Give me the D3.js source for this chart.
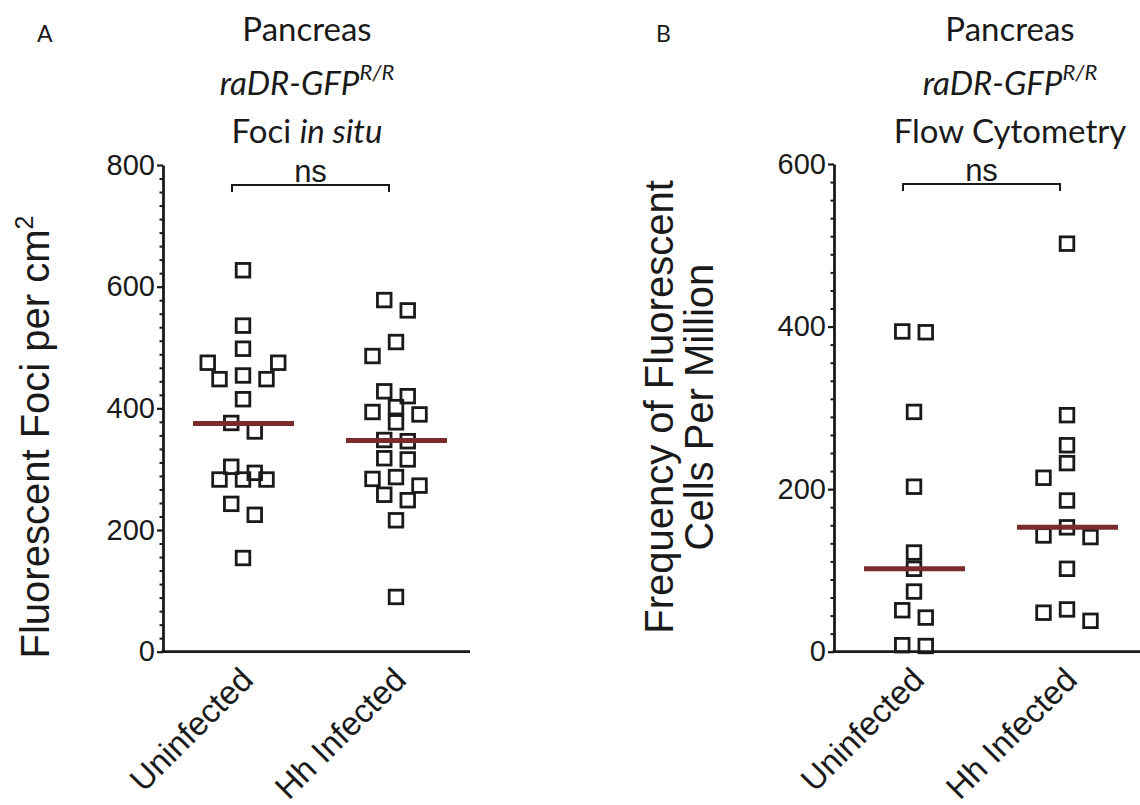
<!DOCTYPE html>
<html lang="en">
<head>
<meta charset="UTF-8">
<style>
  body { margin: 0; background: #fff; }
  svg text { fill: #1a1a1a; }
  .tick text { font-family: "Liberation Sans", Arial, sans-serif; }
</style>
<script src="https://d3js.org/d3.v7.min.js"></script>
</head>
<body>
<div id="chart"></div>
<script>
// groups on the x axis
const groups = ["Uninfected", "Hh Infected"];

// panel A : fluorescent foci per cm2 (in situ)
const fociUninfected = [627, 536, 498, 475, 475, 454, 448, 448, 415, 376, 362, 304, 294, 283, 283, 283, 243, 225, 154];
const fociInfected = [578, 561, 509, 486, 428, 420, 402, 394, 390, 377, 348, 346, 318, 316, 287, 284, 273, 258, 249, 216, 90];
const fociMeans = [375, 347];
const fociTicks = [0, 200, 400, 600, 800];

// panel B : fluorescent cells per million (flow cytometry)
const flowUninfected = [394, 393, 295, 203, 122, 102, 74, 51, 42, 8, 7];
const flowInfected = [502, 291, 254, 232, 214, 186, 153, 143, 141, 102, 52, 48, 38];
const flowMeans = [102, 153];
const flowTicks = [0, 200, 400, 600];

const W = 1140, H = 805;
const svg = d3.select("#chart").append("svg")
  .attr("width", W).attr("height", H);

const ink = "#1a1a1a";
const meanColor = "#7a2c2c";
const titleFont = "Lato, 'Open Sans', sans-serif";
const axisFont = "'Liberation Sans', Arial, sans-serif";

// prism-like column layout : rows of close values spread symmetrically
function swarm(values, y, step) {
  const order = values.map((v, i) => i).sort((a, b) => values[b] - values[a]);
  const rows = [];
  order.forEach(i => {
    const py = y(values[i]);
    const last = rows[rows.length - 1];
    if (last && py - last.start <= 12) last.items.push(i);
    else rows.push({start: py, items: [i]});
  });
  const off = new Array(values.length).fill(0);
  const placed = [];
  const hit = (ox, py) => placed.some(p => Math.abs(p.x - ox) < 12 && Math.abs(p.y - py) < 15);
  const order2 = c => c.slice().sort((a, b) => Math.abs(a) - Math.abs(b) || a - b);
  rows.forEach(r => {
    const n = r.items.length;
    let cands = [];
    if (n === 1) cands = [[0], [-1], [1]];
    else {
      const base = d3.range(n).map(k => k - (n - 1) / 2);
      for (let s = 0; s < 2; s++) cands.push(base.map(o => o === 0 ? 0 : o + Math.sign(o) * s));
    }
    let chosen = cands[0];
    for (const c of cands) {
      const slots = order2(c);
      if (r.items.every((i, k) => !hit(slots[k] * step, y(values[i])))) { chosen = c; break; }
    }
    const slots = order2(chosen);
    r.items.forEach((i, k) => {
      off[i] = slots[k] * step;
      placed.push({x: off[i], y: y(values[i])});
    });
  });
  return off;
}

function panel(cfg) {
  const g = svg.append("g");
  const y = d3.scaleLinear().domain(cfg.domain).range([cfg.bottom, cfg.top]);
  const x = d3.scalePoint().domain(groups).range([cfg.left + 80, cfg.left + 233]);

  // minor ticks : 8 between each pair of majors
  const minor = [];
  for (let k = 0; k < cfg.ticks.length - 1; k++) {
    const a = cfg.ticks[k], b = cfg.ticks[k + 1];
    for (let m = 1; m < 9; m++) minor.push(a + (b - a) * m / 9);
  }
  g.append("g")
    .attr("transform", `translate(${cfg.left},0)`)
    .call(d3.axisLeft(y).tickValues(minor).tickSize(3.5).tickFormat(""))
    .call(a => a.select(".domain").remove())
    .selectAll("line").attr("stroke", ink).attr("stroke-width", 2);

  g.append("g")
    .attr("transform", `translate(${cfg.left},0)`)
    .call(d3.axisLeft(y).tickValues(cfg.ticks).tickSize(6).tickPadding(2).tickSizeOuter(0))
    .call(a => a.select(".domain").attr("stroke", ink).attr("stroke-width", 2.8))
    .call(a => a.selectAll(".tick line").attr("stroke", ink).attr("stroke-width", 2.2))
    .call(a => a.selectAll(".tick text").attr("font-size", 29).attr("fill", ink));

  // x axis
  g.append("line")
    .attr("x1", cfg.left - 1.4).attr("x2", cfg.right)
    .attr("y1", y(0)).attr("y2", y(0))
    .attr("stroke", ink).attr("stroke-width", 2.8);

  g.selectAll(".cat").data(groups).join("text")
    .attr("transform", d => `translate(${x(d) + 12},${y(0) + 30}) rotate(-45)`)
    .attr("text-anchor", "end")
    .attr("font-family", axisFont).attr("font-size", 33)
    .text(d => d);

  // points
  cfg.series.forEach((vals, gi) => {
    const off = swarm(vals, y, 23.5);
    g.append("g").selectAll("rect").data(vals).join("rect")
      .attr("x", (d, i) => x(groups[gi]) + off[i] - 6.8)
      .attr("y", d => y(d) - 6.8)
      .attr("width", 13.6).attr("height", 13.6)
      .attr("fill", "none").attr("stroke", ink).attr("stroke-width", 2.8);
  });

  // mean lines
  g.selectAll(".mean").data(cfg.means).join("line")
    .attr("x1", (d, i) => x(groups[i]) - 50).attr("x2", (d, i) => x(groups[i]) + 51)
    .attr("y1", d => y(d)).attr("y2", d => y(d))
    .attr("stroke", meanColor).attr("stroke-width", 5);

  // significance bracket
  const bx1 = x(groups[0]) - 11, bx2 = x(groups[1]) - 7, by = cfg.top + 20;
  g.append("path")
    .attr("d", `M${bx1},${by + 7}V${by}H${bx2}V${by + 7}`)
    .attr("fill", "none").attr("stroke", ink).attr("stroke-width", 2);
  g.append("text")
    .attr("x", (bx1 + bx2) / 2).attr("y", by - 3)
    .attr("text-anchor", "middle")
    .attr("font-family", axisFont).attr("font-size", 31)
    .text("ns");

  // y title
  const yt = g.append("text")
    .attr("transform", `translate(${cfg.yTitleX},${cfg.yTitleY}) rotate(-90)`)
    .attr("text-anchor", "middle")
    .attr("font-family", axisFont).attr("font-size", 40);
  cfg.yTitle(yt);

  // panel titles
  const t = g.append("text").attr("text-anchor", "middle")
    .attr("font-family", titleFont).attr("font-size", 33);
  t.append("tspan").attr("x", cfg.titleX).attr("y", 41).text("Pancreas");
  const t2 = g.append("text").attr("text-anchor", "middle")
    .attr("font-family", titleFont).attr("font-size", 33)
    .attr("x", cfg.titleX).attr("y", 95);
  t2.append("tspan").attr("font-style", "italic").text("raDR-GFP");
  t2.append("tspan").attr("font-style", "italic").attr("font-size", 22).attr("dy", -15).text("R/R");
  const t3 = g.append("text").attr("text-anchor", "middle")
    .attr("font-family", titleFont).attr("font-size", 33)
    .attr("x", cfg.titleX).attr("y", 143);
  cfg.subtitle(t3);

  g.append("text")
    .attr("x", cfg.letterX).attr("y", 42)
    .attr("font-family", titleFont).attr("font-size", 23)
    .text(cfg.letter);
}

panel({
  letter: "A", letterX: 37, titleX: 307,
  domain: [0, 800], ticks: fociTicks, top: 165, bottom: 651.7,
  left: 163, right: 470,
  series: [fociUninfected, fociInfected], means: fociMeans,
  yTitleX: 49, yTitleY: 437,
  yTitle: t => {
    t.append("tspan").text("Fluorescent Foci per cm");
    t.append("tspan").attr("font-size", 25).attr("dy", -16).text("2");
  },
  subtitle: t => {
    t.append("tspan").text("Foci ");
    t.append("tspan").attr("font-style", "italic").text("in situ");
  }
});

panel({
  letter: "B", letterX: 656, titleX: 1010,
  domain: [0, 600], ticks: flowTicks, top: 164, bottom: 651.7,
  left: 834, right: 1140,
  series: [flowUninfected, flowInfected], means: flowMeans,
  yTitleX: 673, yTitleY: 407,
  yTitle: t => {
    t.append("tspan").attr("x", 0).attr("y", 0).text("Frequency of Fluorescent");
    t.append("tspan").attr("x", 0).attr("y", 40).text("Cells Per Million");
  },
  subtitle: t => t.text("Flow Cytometry")
});
</script>
</body>
</html>
